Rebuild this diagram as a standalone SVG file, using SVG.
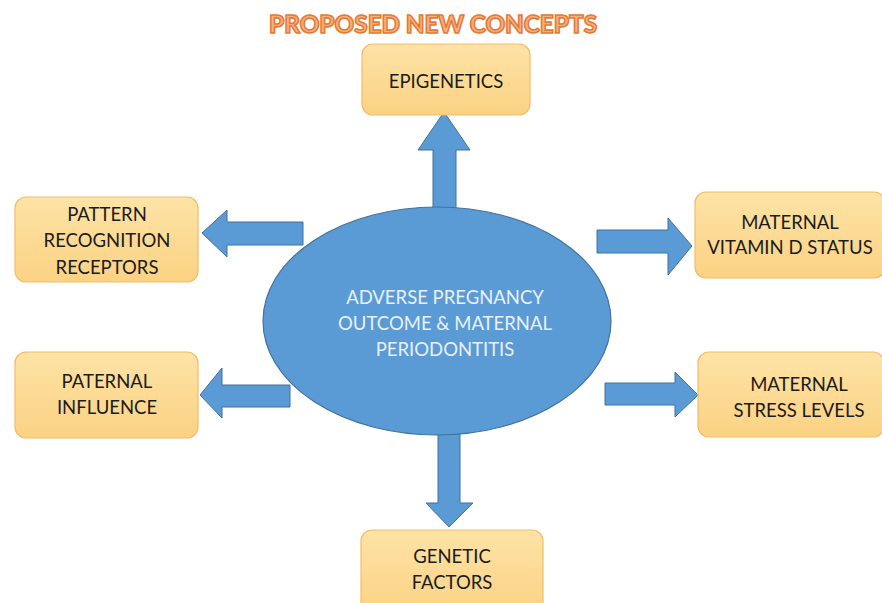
<svg xmlns="http://www.w3.org/2000/svg" width="882" height="603" viewBox="0 0 882 603">
  <style>
    .box { fill: url(#boxFill); stroke: #f3bc6a; stroke-width: 1.2; }
    .lbl { font-family: Lato, "Open Sans", "Liberation Sans", sans-serif; font-size: 18.5px; fill: #1b1b1b; text-anchor: middle; }
    .hub { font-family: Lato, "Open Sans", "Liberation Sans", sans-serif; font-size: 18.5px; fill: #e9f0f9; text-anchor: middle; }
    .arrow { fill: #5b9bd5; stroke: #41719c; stroke-width: 1; }
    .title { font-family: Lato, "Open Sans", "Liberation Sans", sans-serif; font-weight: 900; font-size: 25px; fill: #f5b183; stroke: #e67a35; stroke-width: 1.6; paint-order: fill; text-anchor: middle; }
  </style>
  <defs>
    <linearGradient id="boxFill" x1="0" y1="0" x2="0" y2="1">
      <stop offset="0" stop-color="#fde3a6"/>
      <stop offset="1" stop-color="#fbd283"/>
    </linearGradient>
  </defs>
  <rect width="882" height="603" fill="#ffffff"/>

  <text class="title" x="433" y="33" textLength="328" lengthAdjust="spacingAndGlyphs">PROPOSED NEW CONCEPTS</text>

  <!-- connectors: block arrows radiating from the hub -->
  <g id="connectors">
    <!-- up -->
    <path class="arrow" d="M433,212 L433,150 L418,150 L444,112 L470,150 L456,150 L456,212 Z"/>
    <!-- down -->
    <path class="arrow" d="M438,430 L438,503 L426,503 L449,527 L473,503 L460,503 L460,430 Z"/>
    <!-- left upper -->
    <path class="arrow" d="M303,222 L227,222 L227,210 L202,233 L227,257 L227,245 L303,245 Z"/>
    <!-- left lower -->
    <path class="arrow" d="M290,385 L222,385 L222,368 L200,395 L222,418 L222,407 L290,407 Z"/>
    <!-- right upper -->
    <path class="arrow" d="M597,230 L668,230 L668,218 L692,246 L668,275 L668,253 L597,253 Z"/>
    <!-- right lower -->
    <path class="arrow" d="M605,383 L675,383 L675,372 L698,395 L675,417 L675,405 L605,405 Z"/>
  </g>

  <g id="hub">
    <ellipse cx="437" cy="321" rx="174" ry="114" fill="#5b9bd5" stroke="#41719c" stroke-width="1.2"/>
    <text class="hub" x="445" y="304">ADVERSE PREGNANCY</text>
    <text class="hub" x="445" y="330">OUTCOME &amp; MATERNAL</text>
    <text class="hub" x="445" y="356">PERIODONTITIS</text>
  </g>

  <g id="epigenetics">
    <rect class="box" x="362" y="44" width="168" height="71" rx="11"/>
    <text class="lbl" x="446" y="88">EPIGENETICS</text>
  </g>

  <g id="pattern-recognition">
    <rect class="box" x="15" y="197" width="183" height="85" rx="11"/>
    <text class="lbl" x="107" y="221">PATTERN</text>
    <text class="lbl" x="107" y="247">RECOGNITION</text>
    <text class="lbl" x="107" y="274">RECEPTORS</text>
  </g>

  <g id="vitamin-d">
    <rect class="box" x="695" y="192" width="190" height="86" rx="11"/>
    <text class="lbl" x="790" y="229">MATERNAL</text>
    <text class="lbl" x="790" y="254">VITAMIN D STATUS</text>
  </g>

  <g id="paternal">
    <rect class="box" x="15" y="352" width="183" height="86" rx="11"/>
    <text class="lbl" x="107" y="388">PATERNAL</text>
    <text class="lbl" x="107" y="414">INFLUENCE</text>
  </g>

  <g id="stress">
    <rect class="box" x="698" y="352" width="186" height="85" rx="11"/>
    <text class="lbl" x="799" y="391">MATERNAL</text>
    <text class="lbl" x="799" y="417">STRESS LEVELS</text>
  </g>

  <g id="genetic">
    <rect class="box" x="361" y="530" width="182" height="85" rx="11"/>
    <text class="lbl" x="452" y="563">GENETIC</text>
    <text class="lbl" x="452" y="589">FACTORS</text>
  </g>
</svg>
